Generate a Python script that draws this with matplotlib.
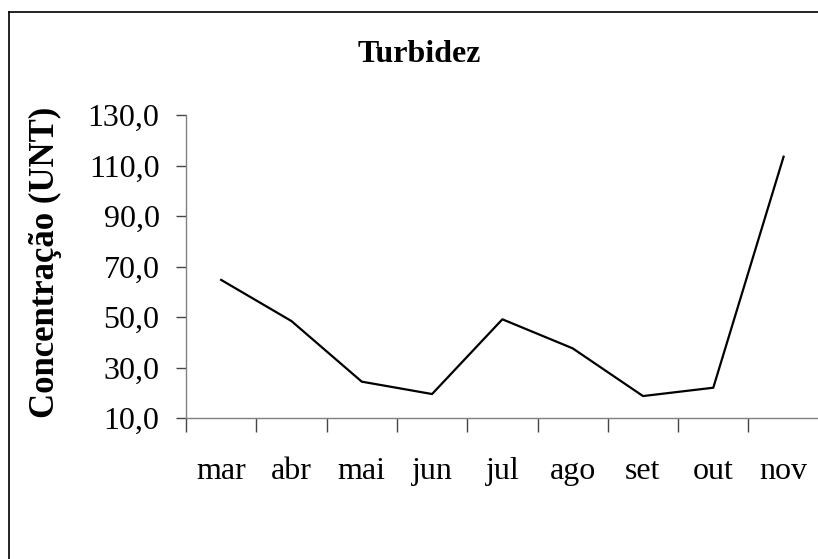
import matplotlib
matplotlib.use('Agg')
import matplotlib.pyplot as plt
from matplotlib.lines import Line2D
import numpy as np

months = ['mar', 'abr', 'mai', 'jun', 'jul', 'ago', 'set', 'out', 'nov']
turbidez = [64.7, 48.4, 24.4, 19.5, 49.1, 37.6, 18.7, 22.0, 113.5]
y_ticks = [10, 30, 50, 70, 90, 110, 130]

plt.rcParams['font.family'] = ['Liberation Serif', 'DejaVu Serif']

fig = plt.figure(figsize=(8.18, 5.59), dpi=100)
ax = fig.add_axes([0.2274, 0.2522, 0.7735, 0.542])

x = np.arange(len(months))
ax.plot(x, turbidez, color='black', linewidth=1.6)

ax.set_xlim(-0.5, len(months) - 0.5)
ax.set_ylim(10, 130)

# ticks between categories, labels centred on them (Excel style)
ax.set_xticks(np.arange(-0.5, len(months), 1))
ax.set_xticklabels([])
ax.set_xticks(x, minor=True)
ax.set_xticklabels(months, minor=True, fontsize=23)
ax.tick_params(axis='x', which='major', direction='out', length=10, width=1, color='#444444')
ax.tick_params(axis='x', which='minor', length=0, pad=28)

ax.set_yticks(y_ticks)
ax.set_yticklabels([f'{v},0' for v in y_ticks], fontsize=23)
ax.tick_params(axis='y', direction='out', length=7, width=1, color='#444444', pad=12)

for s in ['top', 'right']:
    ax.spines[s].set_visible(False)
for s in ['left', 'bottom']:
    ax.spines[s].set_color('#808080')
    ax.spines[s].set_linewidth(1)

fig.text(0.513, 0.902, 'Turbidez', ha='center', va='center', fontsize=23, fontweight='bold')
fig.text(0.056, 0.531, 'Concentração (UNT)', ha='center', va='center', rotation=90,
         fontsize=25, fontweight='bold')

# chart area border (left and top visible, rest is cut off)
fig.add_artist(Line2D([9 / 818, 9 / 818], [0, 1 - 12 / 559], transform=fig.transFigure,
                      color='black', linewidth=1.2))
fig.add_artist(Line2D([9 / 818, 1], [1 - 12 / 559, 1 - 12 / 559], transform=fig.transFigure,
                      color='black', linewidth=1.2))

fig.savefig('out.png', dpi=100)
